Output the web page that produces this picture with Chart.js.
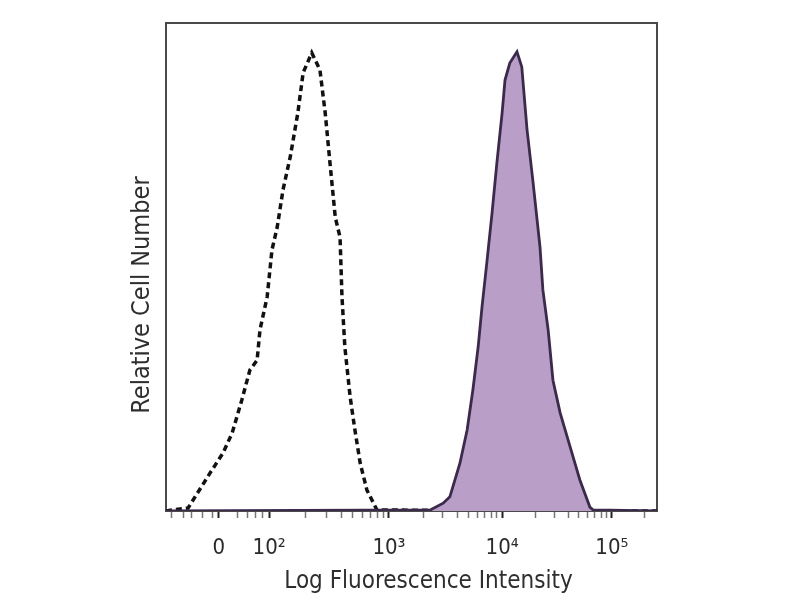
<!DOCTYPE html>
<html>
<head>
<meta charset="utf-8">
<script src="https://cdn.jsdelivr.net/npm/chart.js@4.4.1/dist/chart.umd.min.js"></script>
<style>
  html, body { margin: 0; padding: 0; background: #fff; }
  #wrap { width: 800px; height: 600px; }
</style>
</head>
<body>
<div id="wrap"><canvas id="histo" width="800" height="600"></canvas></div>
<script>
// x is in display channels (0-1024), y is relative cell number (% of max)
var isoX = [0, 12, 46, 92, 119, 138, 158, 175, 190, 196, 211, 221, 232, 244, 259, 275, 286, 304, 321, 332, 342, 353, 363, 367, 373, 384, 394, 405, 419, 440, 1024];
var isoY = [0, 0.2, 0.6, 7.8, 11.9, 16.0, 22.7, 28.9, 30.9, 37.1, 43.9, 53.5, 58.2, 65.8, 72.5, 81.6, 89.8, 93.9, 90.4, 81.6, 71.3, 60.2, 56.1, 43.9, 33.6, 23.4, 16.6, 9.8, 4.3, 0.2, 0];

var stainX = [0, 551, 578, 592, 613, 628, 640, 651, 659, 669, 680, 690, 701, 707, 717, 732, 742, 753, 765, 780, 786, 797, 807, 822, 843, 863, 884, 891, 1024];
var stainY = [0, 0.2, 1.6, 2.9, 9.8, 16.6, 24.8, 33.6, 41.8, 50.8, 61.1, 71.3, 81.6, 88.3, 91.8, 94.1, 91.0, 78.1, 67.8, 54.1, 45.3, 37.1, 26.8, 20.1, 13.1, 6.4, 0.8, 0.2, 0];

// axis labels at their channel positions (biexponential display)
var majorTicks = [110, 215, 465, 701, 930];
var majorLabels = ['0', '10\u00b2', '10\u00b3', '10\u2074', '10\u2075'];
// small ticks in the linear region around zero
var linearMinor = [12, 36, 54, 77, 96, 150, 169, 186, 202];

var xTitle = 'Log Fluorescence Intensity';
var yTitle = 'Relative Cell Number';

function pairs(xs, ys) {
	var out = [];
	for (var i = 0; i < xs.length; i++) {
		out.push({x: xs[i], y: ys[i]});
	}
	return out;
}

function buildTicks() {
	var list = [];
	linearMinor.forEach(function (v) { list.push({value: v, major: false}); });
	majorTicks.forEach(function (v) { list.push({value: v, major: true}); });
	// log-spaced minor ticks inside each decade
	for (var d = 1; d < majorTicks.length; d++) {
		var start = majorTicks[d];
		var width = d + 1 < majorTicks.length ? majorTicks[d + 1] - start : start - majorTicks[d - 1];
		for (var k = 2; k <= 9; k++) {
			var v = start + width * Math.log10(k);
			if (v < 1024) list.push({value: v, major: false});
		}
	}
	list.sort(function (a, b) { return a.value - b.value; });
	return list;
}

var labelFont = "'DejaVu Sans Condensed', 'DejaVu Sans', sans-serif";

var framePlugin = {
	id: 'frame',
	beforeDatasetsDraw: function (chart) {
		var a = chart.chartArea, ctx = chart.ctx;
		ctx.save();
		ctx.strokeStyle = '#4a4a4a';
		ctx.lineWidth = 2;
		ctx.strokeRect(a.left, a.top, a.right - a.left, a.bottom - a.top);
		ctx.restore();
	},
	afterDraw: function (chart) {
		// axis titles are a little off-centre in the original
		var a = chart.chartArea, ctx = chart.ctx;
		ctx.save();
		ctx.fillStyle = '#2e2e2e';
		ctx.textAlign = 'center';
		ctx.textBaseline = 'middle';
		ctx.font = "24px " + labelFont;
		ctx.fillText(xTitle, (a.left + a.right) / 2 + 17, a.bottom + 71);
		ctx.translate(a.left - 24, (a.top + a.bottom) / 2 + 28);
		ctx.rotate(-Math.PI / 2);
		ctx.font = "25px " + labelFont;
		ctx.fillText(yTitle, 0, 0);
		ctx.restore();
	}
};

var ctx = document.getElementById('histo').getContext('2d');
var chart = new Chart(ctx, {
	type: 'line',
	data: {
		datasets: [
			{
				label: 'Stained',
				data: pairs(stainX, stainY),
				borderColor: '#3b2a4c',
				backgroundColor: 'rgb(185,159,199)',
				borderWidth: 2.8,
				fill: 'origin',
				pointRadius: 0,
				tension: 0
			},
			{
				label: 'Isotype control',
				data: pairs(isoX, isoY),
				borderColor: '#111',
				borderWidth: 3.5,
				borderDash: [6, 4],
				fill: false,
				pointRadius: 0,
				tension: 0
			}
		]
	},
	options: {
		responsive: false,
		animation: false,
		layout: { padding: { left: 0, right: 143, top: 23, bottom: 0 } },
		plugins: {
			legend: { display: false },
			tooltip: { enabled: false }
		},
		scales: {
			x: {
				type: 'linear',
				min: 0,
				max: 1024,
				afterFit: function (s) { s.height = 89; },
				afterBuildTicks: function (s) { s.ticks = buildTicks(); },
				border: { display: false },
				grid: {
					drawOnChartArea: false,
					drawTicks: true,
					tickLength: 7,
					tickWidth: function (c) { return c.tick && c.tick.major ? 2 : 1.5; },
					tickColor: function (c) { return c.tick && c.tick.major ? '#222' : '#777'; }
				},
				ticks: {
					autoSkip: false,
					maxRotation: 0,
					padding: 17,
					color: '#2a2a2a',
					font: { family: labelFont, size: 22 },
					callback: function (v) {
						var i = majorTicks.indexOf(v);
						return i >= 0 ? majorLabels[i] : '';
					}
				},
				title: { display: false }
			},
			y: {
				min: 0,
				max: 100,
				afterFit: function (s) { s.width = 166; },
				border: { display: false },
				grid: { display: false },
				ticks: { display: false }
			}
		}
	},
	plugins: [framePlugin]
});
</script>
</body>
</html>
